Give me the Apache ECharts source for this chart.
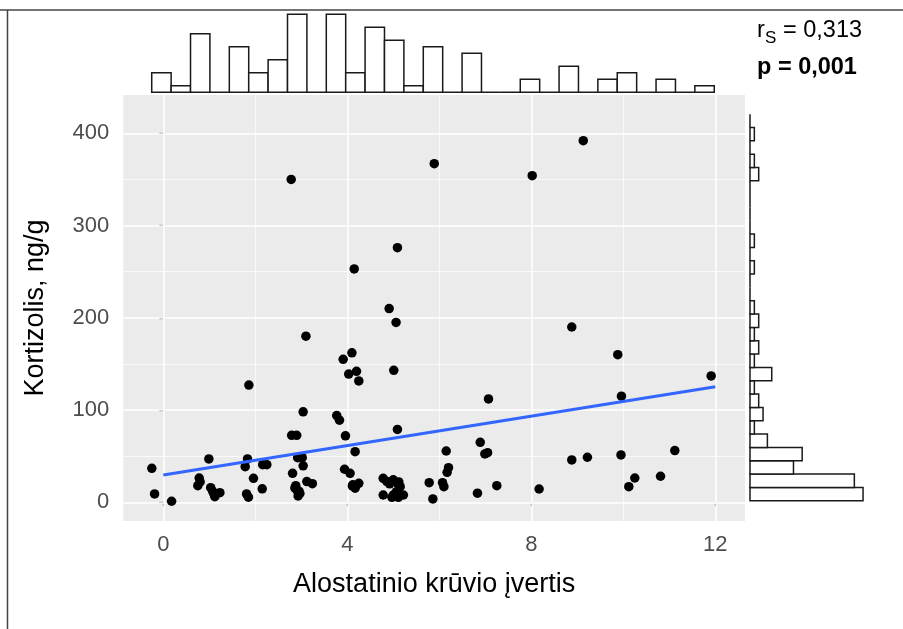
<!DOCTYPE html>
<html>
<head>
<meta charset="utf-8">
<script src="https://cdn.jsdelivr.net/npm/echarts@6/dist/echarts.min.js"></script>
<style>
  html, body { margin: 0; padding: 0; background: #fff; }
  #chart { width: 903px; height: 629px; }
</style>
</head>
<body>
<div id="chart"></div>
<script>
// taškai (x - alostatinio krūvio įvertis, y - kortizolis ng/g)
const pointX = [
  2.78, 5.89, 5.09, 4.15, 4.91, 5.06, 3.10, 8.02, 9.13, 8.88,
  9.88, 11.91, 9.96, 7.07, 6.89, 1.86, 2.79, 2.90, 3.04, 3.91,
  4.10, 4.03, 4.20, 4.25, 3.77, 3.83, 3.96, 5.01, 5.09,
  -0.25, -0.19, 0.18, 0.99, 0.78, 0.75, 1.03, 1.07, 1.12, 1.23,
  1.83, 1.78, 1.96, 1.81, 1.85, 2.15, 2.16, 2.25, 2.92, 3.02,
  3.04, 2.81, 2.86, 2.90, 2.97, 2.93, 3.12, 3.24, 4.17, 3.94,
  4.06, 4.11, 4.25, 4.17, 4.78, 4.86, 5.00, 5.09, 5.15, 5.07,
  4.78, 5.00, 5.22, 4.97, 5.11, 5.78, 5.86, 6.07, 6.10, 6.15,
  6.99, 7.05, 6.20, 6.17, 6.83, 7.25, 8.17, 8.88, 9.22, 9.95,
  11.12, 10.25, 10.12, 10.81,
  1.10, 2.95, 5.05, 0.80, 2.88, 4.92, 4.12, 5.12
];
const pointY = [
  350, 367, 276, 253, 210, 195, 180, 354, 392, 190,
  160, 137, 115, 112, 65, 127, 72.6, 72.6, 98, 155,
  162, 139, 142, 131.5, 94, 89, 72, 143, 79,
  36.8, 9, 1.1, 47, 26.3, 18, 15.8, 12.2, 6.1, 10.4,
  47, 38.6, 26, 9, 5.5, 14.6, 40.8, 40.8, 48.3, 48.3,
  39.5, 31.4, 15.5, 13.3, 9.5, 6.8, 22.5, 20.2, 54.9, 35.8,
  31.4, 17.7, 20.6, 15.2, 26, 22.5, 24.3, 20.6, 16.9, 11.5,
  7.9, 7.9, 7.9, 5.4, 5.4, 21.2, 3.6, 21.2, 16.9, 55.6,
  52.4, 53.8, 37.5, 32.5, 9.8, 18, 14.4, 45.9, 48.8, 51.3,
  56, 26.3, 16.9, 28.2,
  9, 12, 9, 22, 18, 20, 19, 22
];

// regresijos tiesė
const fitX = [0, 12];
const fitY = [29.6, 125.3];

// marginaliosios histogramos (dažniai)
const topBinStart = -0.252;
const topBinWidth = 0.4217;
const topCounts = [3, 1, 9, 0, 7, 3, 5, 12, 0, 12, 3, 10, 8, 1, 7, 0, 6, 0, 0, 2, 0, 4, 0, 2, 3, 0, 2, 0, 1];
const rightBinStart = 1.7;
const rightBinWidth = 14.45;
const rightCounts = [26, 24, 10, 12, 4, 1, 3, 2, 1, 5, 1, 2, 1, 2, 1, 0, 0, 1, 0, 1, 0, 0, 0, 0, 2, 1, 0, 1, 0];

// ašių žymos
const xTicks = [0, 4, 8, 12];
const xMinor = [2, 6, 10];
const yTicks = [0, 100, 200, 300, 400];
const yMinor = [50, 150, 250, 350];

const xRange = [-0.87, 12.646];
const yRange = [-20.3, 441.5];

const FONT = '"Liberation Sans", Arial, Helvetica, sans-serif';

const topBins = topCounts.map((c, i) => [topBinStart + i * topBinWidth, topBinStart + (i + 1) * topBinWidth, c]);
const rightBins = rightCounts.map((c, i) => [rightBinStart + i * rightBinWidth, rightBinStart + (i + 1) * rightBinWidth, c]);

const gridLine = (vals, key, width) => vals.map(v => ({ [key]: v, lineStyle: { color: '#fff', width: width, type: 'solid' } }));

// histogramos stulpelis
const histRect = (p0, p1) => ({
  type: 'rect',
  shape: { x: p0[0], y: p1[1], width: p1[0] - p0[0], height: p0[1] - p1[1] },
  style: { fill: '#fff', stroke: '#1a1a1a', lineWidth: 1.5 }
});

const chart = echarts.init(document.getElementById('chart'));

chart.setOption({
  animation: false,
  backgroundColor: '#fff',
  textStyle: { fontFamily: FONT },
  grid: [
    { left: 123.3, top: 95, width: 621.7, height: 426, show: true, backgroundColor: '#EBEBEB', borderWidth: 0 },
    { left: 123.3, top: 10, width: 621.7, height: 82.3 },
    { left: 750, top: 95, width: 130, height: 426 }
  ],
  xAxis: [
    {
      gridIndex: 0, type: 'value', min: xRange[0], max: xRange[1],
      name: 'Alostatinio krūvio įvertis', nameLocation: 'middle', nameGap: 50,
      nameTextStyle: { fontSize: 27, color: '#000', fontFamily: FONT },
      axisLine: { show: false },
      axisTick: { show: true, customValues: xTicks, length: 4, lineStyle: { color: '#333', width: 1.2 } },
      axisLabel: { customValues: xTicks, fontSize: 22, color: '#4D4D4D', margin: 13, fontFamily: FONT },
      splitLine: { show: false }
    },
    { gridIndex: 1, type: 'value', min: xRange[0], max: xRange[1], show: false },
    { gridIndex: 2, type: 'value', min: 0, max: 29.9, show: false }
  ],
  yAxis: [
    {
      gridIndex: 0, type: 'value', min: yRange[0], max: yRange[1],
      name: 'Kortizolis, ng/g', nameLocation: 'middle', nameGap: 74,
      nameTextStyle: { fontSize: 27, color: '#000', fontFamily: FONT },
      axisLine: { show: false },
      axisTick: { show: true, customValues: yTicks, length: 4, lineStyle: { color: '#333', width: 1.2 } },
      axisLabel: { customValues: yTicks, fontSize: 22, color: '#4D4D4D', margin: 14, fontFamily: FONT },
      splitLine: { show: false }
    },
    { gridIndex: 1, type: 'value', min: 0, max: 12.66, show: false },
    { gridIndex: 2, type: 'value', min: yRange[0], max: yRange[1], show: false }
  ],
  series: [
    {
      // tinklelio linijos
      type: 'scatter', xAxisIndex: 0, yAxisIndex: 0, data: [], silent: true, z: 1,
      markLine: {
        silent: true, symbol: 'none', label: { show: false }, z: 1,
        data: [].concat(
          gridLine(xMinor, 'xAxis', 0.7),
          gridLine(yMinor, 'yAxis', 0.7),
          gridLine(xTicks, 'xAxis', 1.5),
          gridLine(yTicks, 'yAxis', 1.5)
        )
      }
    },
    {
      type: 'scatter', xAxisIndex: 0, yAxisIndex: 0, z: 6,
      symbolSize: 9.5,
      itemStyle: { color: '#000', opacity: 1 },
      data: pointX.map((x, i) => [x, pointY[i]])
    },
    {
      type: 'line', xAxisIndex: 0, yAxisIndex: 0, z: 7,
      showSymbol: false, symbol: 'none',
      lineStyle: { color: '#3366FF', width: 3 },
      data: fitX.map((x, i) => [x, fitY[i]])
    },
    {
      type: 'custom', xAxisIndex: 1, yAxisIndex: 1, clip: false,
      data: topBins,
      encode: { x: [0, 1], y: 2 },
      renderItem: (params, api) => histRect(
        api.coord([api.value(0), 0]),
        api.coord([api.value(1), api.value(2)])
      )
    },
    {
      type: 'custom', xAxisIndex: 2, yAxisIndex: 2, clip: false,
      data: rightBins,
      encode: { y: [0, 1], x: 2 },
      renderItem: (params, api) => histRect(
        api.coord([0, api.value(0)]),
        api.coord([api.value(2), api.value(1)])
      )
    }
  ],
  graphic: [
    // rėmelis
    { type: 'line', shape: { x1: 0, y1: 10, x2: 903, y2: 10 }, style: { stroke: '#444', lineWidth: 1.5 } },
    { type: 'line', shape: { x1: 7.5, y1: 10, x2: 7.5, y2: 629 }, style: { stroke: '#444', lineWidth: 1.5 } },
    { type: 'text', left: 757, top: 19, style: { text: 'r', fontSize: 23.5, fontFamily: FONT, fill: '#000' } },
    { type: 'text', left: 765, top: 30, style: { text: 'S', fontSize: 17, fontFamily: FONT, fill: '#000' } },
    { type: 'text', left: 783, top: 19, style: { text: '= 0,313', fontSize: 23.5, fontFamily: FONT, fill: '#000' } },
    {
      type: 'text', left: 757, top: 56,
      style: { text: 'p = 0,001', fontSize: 23.5, fontWeight: 'bold', fontFamily: FONT, fill: '#000' }
    }
  ]
});
</script>
</body>
</html>
